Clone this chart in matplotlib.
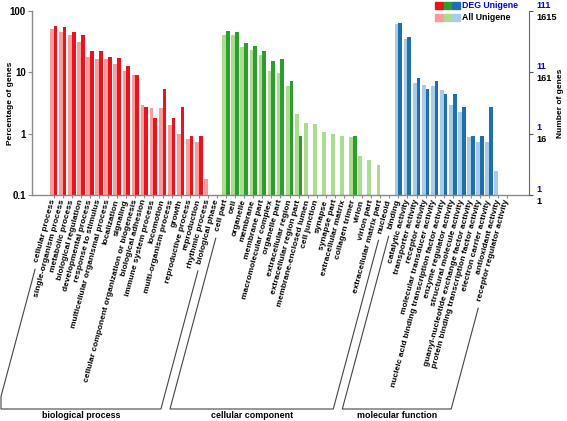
import numpy as np
import matplotlib
matplotlib.use('Agg')
import matplotlib.pyplot as plt
import matplotlib.transforms as mtrans
from matplotlib.lines import Line2D
from matplotlib.patches import Rectangle

plt.rcParams['font.family'] = ['Liberation Sans', 'DejaVu Sans']

# ---------------- data ----------------
bp_terms = ['cellular process', 'single-organism process', 'metabolic process',
            'biological regulation', 'developmental process', 'response to stimulus',
            'multicellular organismal process', 'localization', 'signaling',
            'cellular component organization or biogenesis', 'biological adhesion',
            'immune system process', 'locomotion', 'multi-organism process', 'growth',
            'reproductive process', 'reproduction', 'rhythmic process', 'biological phase']
cc_terms = ['cell part', 'cell', 'organelle', 'membrane', 'membrane part',
            'macromolecular complex', 'organelle part', 'extracellular region',
            'extracellular region part', 'membrane-enclosed lumen', 'cell junction',
            'synapse', 'synapse part', 'extracellular matrix', 'collagen trimer',
            'virion', 'virion part', 'extracellular matrix part', 'nucleoid']
mf_terms = ['binding', 'catalytic activity', 'transporter activity', 'receptor activity',
            'molecular transducer activity',
            'nucleic acid binding transcription factor activity',
            'enzyme regulator activity', 'structural molecule activity',
            'guanyl-nucleotide exchange factor activity',
            'protein binding transcription factor activity',
            'electron carrier activity', 'antioxidant activity', 'receptor regulator activity']

bp_all = [822, 735, 664, 504, 287, 270, 266, 218, 171, 148, 47, 42, 42, 22, 16, 13, 12, 3, 1]
bp_deg = [63, 60, 50, 45, 25, 25, 20, 19, 14, 10, 3, 2, 6, 2, 3, 1, 1, 0, 0]
cc_all = [664, 664, 423, 373, 310, 171, 157, 97, 34, 24, 23, 17, 16, 15, 14, 7, 6, 5, 1]
cc_deg = [52, 51, 33, 30, 25, 17, 18, 8, 1, 0, 0, 0, 0, 0, 1, 0, 0, 0, 0]
mf_all = [992, 564, 107, 100, 97, 83, 47, 36, 14, 12, 12, 4, 1]
mf_deg = [70, 42, 9, 6, 8, 5, 5, 3, 1, 1, 3, 0, 0]

total_all = 1615
total_deg = 111

left_ticks = [100, 10, 1, 0.1]
left_tick_labels = ['100', '10', '1', '0.1']
all_tick_labels = ['1615', '161', '16', '1']
deg_tick_labels = ['111', '11', '1', '1']

ontologies = ['biological process', 'cellular component', 'molecular function']
dark_colors = ['#EA121C', '#2C9E2E', '#1E6FB0']
light_colors = ['#F99C9C', '#AADD8E', '#A8CCE6']

# ---------------- figure ----------------
W, H = 567, 421
fig = plt.figure(figsize=(W / 100, H / 100), dpi=100)
ax = fig.add_axes([32 / W, 1 - 195 / H, (529 - 32) / W, (195 - 11) / H])
ax.set_yscale('log')

groups = [(bp_terms, bp_all, bp_deg), (cc_terms, cc_all, cc_deg), (mf_terms, mf_all, mf_deg)]
terms_all = []
group_ranges = []
bw = 0.41
start = 0
for gi, (terms, a, d) in enumerate(groups):
    x = np.arange(start, start + len(terms))
    pa = np.array(a) / total_all * 100
    pd = np.array(d) / total_deg * 100
    ax.bar(x - bw / 2, np.where(pa > 0, pa, np.nan), width=bw, color=light_colors[gi],
           edgecolor='none', zorder=2)
    ax.bar(x + bw / 2, np.where(pd > 0, pd, np.nan), width=bw, color=dark_colors[gi],
           edgecolor='none', zorder=2)
    terms_all += terms
    group_ranges.append((start, start + len(terms) - 1))
    start += len(terms)

n = len(terms_all)
ax.set_xlim(-2.39, n - 1 + 2.40)
ax.set_ylim(0.1, 100)

gray = '#8a8a8a'
for s in ['top', 'right']:
    ax.spines[s].set_visible(False)
for s in ['left', 'bottom']:
    ax.spines[s].set_color(gray)
    ax.spines[s].set_linewidth(1.0)

ax.set_yticks(left_ticks)
ax.set_yticklabels(left_tick_labels, fontsize=7, fontweight='bold')
ax.yaxis.set_minor_locator(matplotlib.ticker.NullLocator())
ax.tick_params(axis='y', length=3, color=gray, pad=1.5)

ax.set_xticks(np.arange(n))
ax.set_xticklabels(terms_all, rotation=75, ha='right', va='center',
                   rotation_mode='anchor', fontsize=6.0, fontweight='bold')
ax.tick_params(axis='x', length=2, color=gray, pad=1.5)

# right axis
ax2 = ax.twinx()
ax2.set_yscale('log')
ax2.set_ylim(0.1, 100)
ax2.set_yticks(left_ticks)
ax2.set_yticklabels([])
ax2.yaxis.set_minor_locator(matplotlib.ticker.NullLocator())
ax2.tick_params(axis='y', length=3, color='#555555')
for s in ['top', 'left', 'bottom']:
    ax2.spines[s].set_visible(False)
ax2.spines['right'].set_color('#666666')

bt = mtrans.blended_transform_factory(ax2.transAxes, ax2.transData)
xr = (536 - 32) / (529 - 32)
for yv, la, ld in zip(left_ticks, all_tick_labels, deg_tick_labels):
    ax2.text(xr, yv, la, transform=mtrans.offset_copy(bt, fig, y=-1.5, units='dots'),
             ha='left', va='top', fontsize=6.6, fontweight='bold', color='black')
    ax2.text(xr, yv, ld, transform=mtrans.offset_copy(bt, fig, y=1.5, units='dots'),
             ha='left', va='bottom', fontsize=6.6, fontweight='bold', color='#0000EE')

fig.text(11 / W, 1 - 103 / H, 'Percentage of genes', rotation=90, ha='center',
         va='center', fontsize=6.0, fontweight='bold')
fig.text(561 / W, 1 - 103 / H, 'Number of genes', rotation=90, ha='center',
         va='center', fontsize=6.0, fontweight='bold')

# legend
sq = 7.5
for i in range(3):
    x0 = 435 + i * 8.7
    fig.add_artist(Rectangle((x0 / W, 1 - 9.2 / H), sq / W, sq / H,
                             transform=fig.transFigure, color=dark_colors[i]))
    fig.add_artist(Rectangle((x0 / W, 1 - 21 / H), sq / W, sq / H,
                             transform=fig.transFigure, color=light_colors[i]))
fig.text(462 / W, 1 - 5 / H, 'DEG Unigene', ha='left', va='center', fontsize=6.3,
         fontweight='bold', color='#0000EE')
fig.text(462 / W, 1 - 17 / H, 'All Unigene', ha='left', va='center', fontsize=6.3,
         fontweight='bold', color='black')

# group brackets
fig.canvas.draw()
renderer = fig.canvas.get_renderer()
labels = ax.get_xticklabels()
ang = np.deg2rad(75)
ux, uy = np.cos(ang), np.sin(ang)
ybot = H - 409
gap = 7


def slant(idx):
    lab = labels[idx]
    x0, y0 = lab.get_transform().transform(lab.get_position())
    w, h, d = renderer.get_text_width_height_descent(lab.get_text(),
                                                     lab.get_fontproperties(), ismath=False)
    t0 = w + gap
    xs = [x0 - t0 * ux]
    ys = [y0 - t0 * uy]
    t1 = (y0 - ybot) / uy
    xe = x0 - t1 * ux
    if xe < 1:
        tc = (x0 - 1) / ux
        xs += [1, 1]
        ys += [y0 - tc * uy, ybot]
        xe = 1
    else:
        xs.append(xe)
        ys.append(ybot)
    return xs, ys, xe


lc = '#444444'
for gi, (a, b) in enumerate(group_ranges):
    lx, ly, lxe = slant(a)
    rx, ry, rxe = slant(b)
    xs = lx + rx[::-1]
    ys = ly + ry[::-1]
    fig.add_artist(Line2D(np.array(xs) / W, np.array(ys) / H, transform=fig.transFigure,
                          color=lc, linewidth=0.8))
    fig.text((lxe + rxe) / 2 / W, 5 / H, ontologies[gi], ha='center', va='center',
             fontsize=6.4, fontweight='bold')

fig.savefig('out.png', dpi=100)
